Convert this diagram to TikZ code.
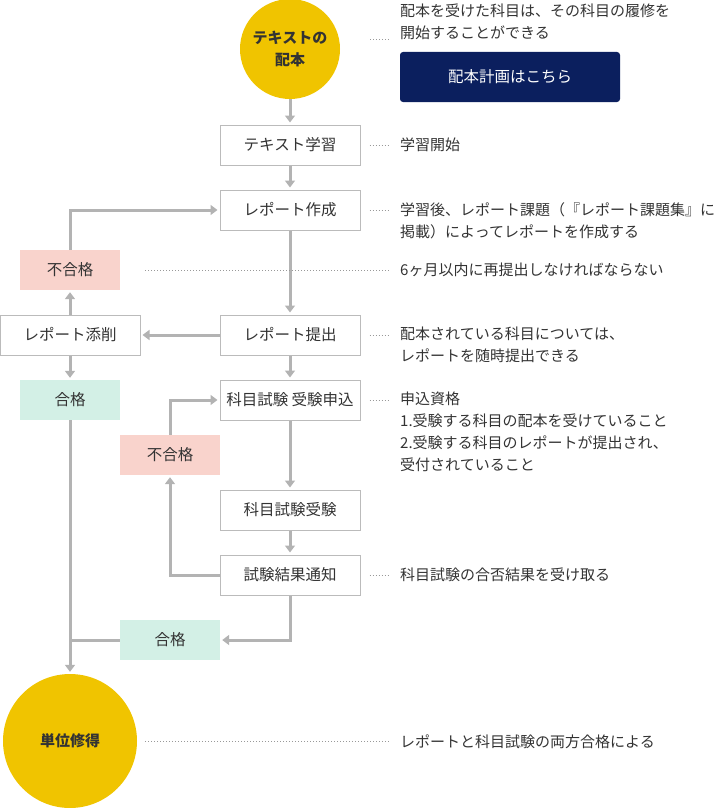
\documentclass[tikz,border=0pt]{standalone}
\usepackage{fontspec}
\setmainfont{Noto Sans CJK JP}
\usetikzlibrary{arrows.meta,positioning}
\definecolor{linegray}{HTML}{B3B3B3}
\definecolor{boxgray}{HTML}{BBBBBB}
\definecolor{txtgray}{HTML}{333333}
\definecolor{gold}{HTML}{F0C400}
\definecolor{ngpink}{HTML}{F9D3CC}
\definecolor{okgreen}{HTML}{D3F0E6}
\definecolor{navy}{HTML}{0B1F5E}
\tikzset{
  stepbox/.style={draw=boxgray,line width=1pt,fill=white,minimum width=140pt,minimum height=40pt,inner sep=0pt,text=txtgray,font=\fontsize{15.5}{22}\selectfont},
  ngbox/.style={fill=ngpink,minimum width=100pt,minimum height=40pt,inner sep=0pt,text=txtgray,font=\fontsize{15.5}{22}\selectfont},
  okbox/.style={fill=okgreen,minimum width=100pt,minimum height=40pt,inner sep=0pt,text=txtgray,font=\fontsize{15.5}{22}\selectfont},
  goal/.style={circle,fill=gold,inner sep=0pt,align=center,text=txtgray,font=\fontsize{15}{22}\selectfont\bfseries},
  note/.style={anchor=base west,align=left,inner sep=0pt,text=txtgray,font=\fontsize{15}{22}\selectfont},
  flow/.style={draw=linegray,line width=3pt,-{Triangle[width=10pt,length=7pt]},shorten >=2pt},
  joinline/.style={draw=linegray,line width=3pt},
  leader/.style={draw=gray!80,line width=1pt,dash pattern=on 1pt off 2pt}
}
\begin{document}
\begin{tikzpicture}[x=1pt,y=-1pt]
  \useasboundingbox (0,0) rectangle (715,808);
  % flow column
  \node[goal,minimum size=100pt] (dist) at (290,49) {テキストの\\配本};
  \node[stepbox] (study) at (290,145) {テキスト学習};
  \node[stepbox] (write) at (290,210) {レポート作成};
  \node[stepbox] (submit) at (290,335) {レポート提出};
  \node[stepbox] (apply) at (290,400) {科目試験 受験申込};
  \node[stepbox] (exam) at (290,510) {科目試験受験};
  \node[stepbox] (result) at (290,575) {試験結果通知};
  % left branches
  \node[ngbox] (ng1) at (70,270) {不合格};
  \node[stepbox] (check) at (70,335) {レポート添削};
  \node[okbox] (ok1) at (70,400) {合格};
  \node[ngbox] (ng2) at (170,455) {不合格};
  \node[okbox] (ok2) at (170,640) {合格};
  \node[goal,minimum size=134pt] (credit) at (70,741) {単位修得};
  % notes (base = last line)
  \node[note] (n1) at (400,39) {配本を受けた科目は、その科目の履修を\\開始することができる};
  \node[fill=navy,rounded corners=3pt,minimum width=220pt,minimum height=50pt,inner sep=0pt,text=white,font=\fontsize{15.5}{22}\selectfont] (plan) at (510,77) {配本計画はこちら};
  \node[note] (n2) at (400,150) {学習開始};
  \node[note] (n3) at (400,237) {学習後、レポート課題（『レポート課題集』に\\掲載）によってレポートを作成する};
  \node[note] (n4) at (400,275) {6ヶ月以内に再提出しなければならない};
  \node[note] (n5) at (400,361) {配本されている科目については、\\レポートを随時提出できる};
  \node[note] (n6) at (400,470) {申込資格\\1.受験する科目の配本を受けていること\\2.受験する科目のレポートが提出され、\\受付されていること};
  \node[note] (n7) at (400,580) {科目試験の合否結果を受け取る};
  \node[note] (n8) at (400,747) {レポートと科目試験の両方合格による};
  % arrows
  \draw[flow] (dist) -- (study);
  \draw[flow] (study) -- (write);
  \draw[flow] (write) -- (submit);
  \draw[flow] (submit) -- (check);
  \draw[flow] (check) -- (ng1);
  \draw[flow] (ng1.north) |- (write.west);
  \draw[flow] (check) -- (ok1);
  \draw[flow] (ok1) -- (credit);
  \draw[flow] (submit) -- (apply);
  \draw[flow] (apply) -- (exam);
  \draw[flow] (exam) -- (result);
  \draw[flow] (result.west) -| (ng2.south);
  \draw[flow] (ng2.north) |- (apply.west);
  \draw[flow] (result.south) |- (ok2.east);
  \draw[joinline] (ok2.west) -- (ok2.west -| ok1.south);
  % dotted leaders
  \draw[leader] ([xshift=30pt,yshift=9pt]dist.east) -- ([xshift=-10pt,yshift=9pt]dist.east -| n1.west);
  \draw[leader] ([xshift=9pt]study.east) -- ([xshift=-10pt]study.east -| n2.west);
  \draw[leader] ([xshift=9pt]write.east) -- ([xshift=-10pt]write.east -| n3.west);
  \draw[leader] ([xshift=25pt]ng1.east) -- ([xshift=-10pt]ng1.east -| n4.west);
  \draw[leader] ([xshift=9pt]submit.east) -- ([xshift=-10pt]submit.east -| n5.west);
  \draw[leader] ([xshift=9pt]apply.east) -- ([xshift=-10pt]apply.east -| n6.west);
  \draw[leader] ([xshift=9pt]result.east) -- ([xshift=-10pt]result.east -| n7.west);
  \draw[leader] ([xshift=8pt]credit.east) -- ([xshift=-10pt]credit.east -| n8.west);
\end{tikzpicture}
\end{document}
